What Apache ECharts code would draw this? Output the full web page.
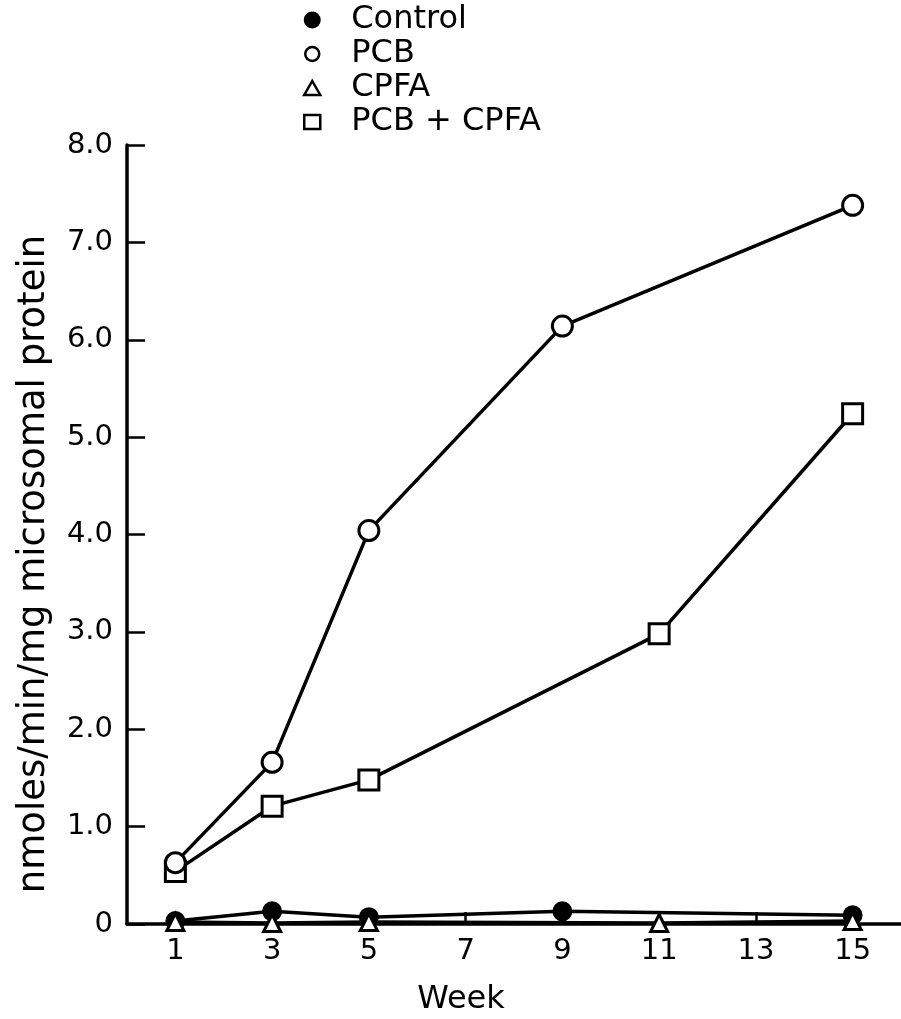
<!DOCTYPE html>
<html><head><meta charset="utf-8">
<script src="https://cdn.jsdelivr.net/npm/echarts@6/dist/echarts.min.js"></script>
<style>html,body{margin:0;padding:0;background:#fff}#c{width:901px;height:1019px}</style>
</head><body><div id="c"></div>
<script>
var weekTicks = [1, 3, 5, 7, 9, 11, 13, 15];
var yTicks = [0, 1, 2, 3, 4, 5, 6, 7, 8];
var seriesNames = ['Control', 'PCB', 'CPFA', 'PCB + CPFA'];
var controlData = [[1, 0.03], [3, 0.13], [5, 0.07], [9, 0.13], [15, 0.09]];
var pcbData = [[1, 0.63], [3, 1.66], [5, 4.04], [9, 6.14], [15, 7.38]];
var cpfaData = [[1, 0.02], [3, 0.01], [5, 0.02], [11, 0.01], [15, 0.03]];
var pcbCpfaData = [[1, 0.54], [3, 1.21], [5, 1.48], [11, 2.98], [15, 5.24]];

var FONT = 'DejaVu Sans';
var chart = echarts.init(document.getElementById('c'), null, {renderer: 'canvas'});
function lineSeries(name, data, symbol, size, filled, z) {
  return {
    name: name, type: 'line', data: data, symbol: symbol, symbolSize: size,
    z: z, showAllSymbol: true,
    lineStyle: {color: '#000', width: 3.5},
    itemStyle: {color: filled ? '#000' : '#fff', borderColor: '#000', borderWidth: 3},
    emphasis: {disabled: true}
  };
}
chart.setOption({
  animation: false,
  backgroundColor: '#fff',
  legend: {
    orient: 'vertical', left: 298, top: -2, itemGap: 0, itemWidth: 16, itemHeight: 14,
    textStyle: {fontFamily: FONT, fontSize: 32, color: '#000', lineHeight: 34, padding: [0, 0, 0, 26]},
    data: [
      {name: 'Control', icon: 'circle', itemStyle: {color: '#000', borderColor: '#000', borderWidth: 3}},
      {name: 'PCB', icon: 'circle', itemStyle: {color: '#fff', borderColor: '#000', borderWidth: 2.5}},
      {name: 'CPFA', icon: 'triangle', itemStyle: {color: '#fff', borderColor: '#000', borderWidth: 2.5}},
      {name: 'PCB + CPFA', icon: 'rect', itemStyle: {color: '#fff', borderColor: '#000', borderWidth: 2.5}}
    ]
  },
  grid: {left: 127, top: 145, width: 776, height: 779, containLabel: false},
  xAxis: {
    type: 'value', min: 0, max: 16,
    axisLine: {show: true, lineStyle: {color: '#000', width: 3.5}},
    axisTick: {show: true, inside: true, length: 12, lineStyle: {color: '#000', width: 2.5}, customValues: weekTicks},
    axisLabel: {customValues: weekTicks, fontFamily: FONT, fontSize: 29, color: '#000', margin: 13},
    splitLine: {show: false}
  },
  yAxis: {
    type: 'value', min: 0, max: 8, interval: 1,
    axisLine: {show: true, lineStyle: {color: '#000', width: 3.5}},
    axisTick: {show: true, inside: true, length: 18, lineStyle: {color: '#000', width: 2.5}, customValues: yTicks},
    axisLabel: {customValues: yTicks, fontFamily: FONT, fontSize: 29, color: '#000', margin: 14,
      formatter: function (v) { return v === 0 ? '0' : v.toFixed(1); }},
    splitLine: {show: false}
  },
  graphic: [{
    type: 'text', x: 34, y: 564, rotation: Math.PI / 2,
    style: {text: 'nmoles/min/mg microsomal protein', fontFamily: FONT, fontSize: 37, fill: '#000',
      align: 'center', verticalAlign: 'middle'}
  }, {
    type: 'text', x: 461, y: 1000,
    style: {text: 'Week', fontFamily: FONT, fontSize: 32, fill: '#000', align: 'center', verticalAlign: 'middle'}
  }],
  series: [
    lineSeries('Control', controlData, 'circle', 17, true, 2),
    lineSeries('CPFA', cpfaData, 'triangle', 17, false, 3),
    lineSeries('PCB + CPFA', pcbCpfaData, 'rect', 20, false, 4),
    lineSeries('PCB', pcbData, 'circle', 20, false, 5)
  ]
});
</script></body></html>
